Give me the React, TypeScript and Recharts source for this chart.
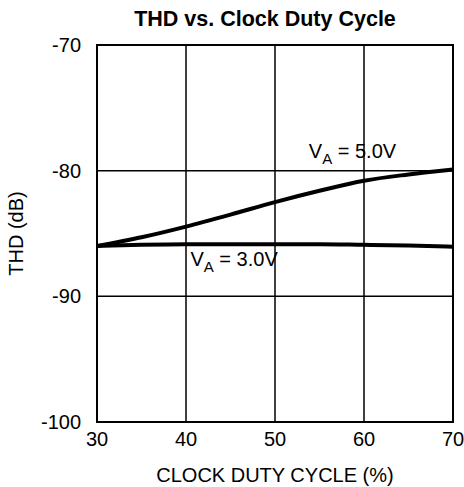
import { LineChart, Line, XAxis, YAxis, CartesianGrid, ReferenceArea, ReferenceDot, Label } from "recharts";

const dutyCycle = [30, 35, 40, 45, 50, 55, 60, 65, 70];
const thd5V = [-86.0, -85.3, -84.45, -83.5, -82.5, -81.6, -80.8, -80.3, -79.9];
const thd3V = [-86.0, -85.9, -85.85, -85.85, -85.85, -85.85, -85.9, -85.95, -86.05];
const xTicks = [30, 40, 50, 60, 70];
const yTicks = [-100, -90, -80, -70];

const data = dutyCycle.map((d, i) => ({ duty: d, v5: thd5V[i], v3: thd3V[i] }));

const font = "'Liberation Sans', Arial, sans-serif";

function curveLabel(main: string, sub: string, value: string) {
  return (props: any) => {
    const { viewBox } = props;
    return (
      <text x={viewBox.x} y={viewBox.y} fontFamily={font} fontSize={20} fill="#000">
        {main}
        <tspan fontSize={15} dy={6}>{sub}</tspan>
        <tspan dy={-6}>{value}</tspan>
      </text>
    );
  };
}

export default function App() {
  return (
    <div style={{ position: "absolute", left: 0, top: 0, width: 464, height: 487, background: "#fff", fontFamily: font }}>
      <div style={{ position: "absolute", left: 87, width: 356, top: 7, textAlign: "center", fontSize: 21.5, fontWeight: "bold", color: "#000" }}>
        THD vs. Clock Duty Cycle
      </div>
      <LineChart width={464} height={487} data={data} margin={{ top: 45, right: 11, bottom: 0, left: 0 }}>
        <CartesianGrid stroke="#000" strokeWidth={1.5} vertical horizontal />
        <XAxis
          dataKey="duty"
          type="number"
          domain={[30, 70]}
          ticks={xTicks}
          tickLine={false}
          axisLine={false}
          height={65}
          tick={{ fontSize: 20, fill: "#000", fontFamily: font }}
          tickMargin={4}
        >
          <Label value="CLOCK DUTY CYCLE (%)" position="insideBottom" offset={5} style={{ fontSize: 20, fill: "#000", fontFamily: font }} />
        </XAxis>
        <YAxis
          type="number"
          domain={[-100, -70]}
          ticks={yTicks}
          tickLine={false}
          axisLine={false}
          width={97}
          tick={{ fontSize: 20, fill: "#000", fontFamily: font }}
          tickMargin={10}
        >
          <Label value="THD (dB)" angle={-90} position="insideLeft" offset={16} style={{ fontSize: 20, fill: "#000", fontFamily: font, textAnchor: "middle" }} />
        </YAxis>
        <ReferenceArea x1={30} x2={70} y1={-100} y2={-70} fill="none" stroke="#000" strokeWidth={2} fillOpacity={0} />
        <Line type="monotone" dataKey="v5" stroke="#000" strokeWidth={4} dot={false} isAnimationActive={false} />
        <Line type="monotone" dataKey="v3" stroke="#000" strokeWidth={4} dot={false} isAnimationActive={false} />
        <ReferenceDot x={53.8} y={-79} r={0} stroke="none" fill="none">
          <Label content={curveLabel("V", "A", " = 5.0V")} />
        </ReferenceDot>
        <ReferenceDot x={40.5} y={-87.6} r={0} stroke="none" fill="none">
          <Label content={curveLabel("V", "A", " = 3.0V")} />
        </ReferenceDot>
      </LineChart>
    </div>
  );
}
